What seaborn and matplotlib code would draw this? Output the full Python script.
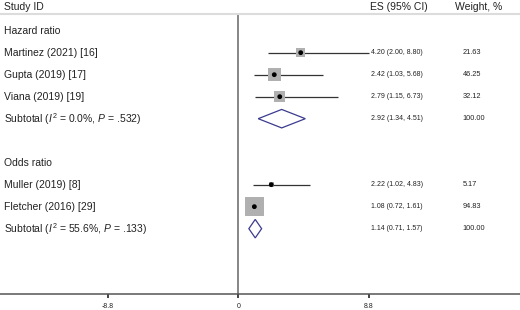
import numpy as np
import pandas as pd
import matplotlib
matplotlib.use("Agg")
import matplotlib.pyplot as plt
from matplotlib.patches import Polygon
import seaborn as sns

sns.set_style("white")
plt.rcParams["font.family"] = ["Liberation Sans", "DejaVu Sans"]
plt.rcParams["mathtext.fontset"] = "custom"
plt.rcParams["mathtext.rm"] = "Liberation Sans"
plt.rcParams["mathtext.it"] = "Liberation Sans:italic"

groups = ["Hazard ratio", "Odds ratio"]
studies = ["Martinez (2021) [16]", "Gupta (2019) [17]", "Viana (2019) [19]",
           "Muller (2019) [8]", "Fletcher (2016) [29]"]
study_group = ["Hazard ratio", "Hazard ratio", "Hazard ratio", "Odds ratio", "Odds ratio"]
es = [4.20, 2.42, 2.79, 2.22, 1.08]
ci_lo = [2.00, 1.03, 1.15, 1.02, 0.72]
ci_hi = [8.80, 5.68, 6.73, 4.83, 1.61]
weight = [21.63, 46.25, 32.12, 5.17, 94.83]

sub_es = [2.92, 1.14]
sub_lo = [1.34, 0.71]
sub_hi = [4.51, 1.57]
sub_i2 = ["0.0%", "55.6%"]
sub_p = [".532", ".133"]

xticks = [-8.8, 0, 8.8]

# armamos las filas (una fila por renglon del grafico)
rows = []
r = 0
for g, gname in enumerate(groups):
    rows.append(dict(kind="head", row=r, label=gname))
    r += 1
    for i, s in enumerate(studies):
        if study_group[i] == gname:
            rows.append(dict(kind="study", row=r, label=s, es=es[i], lo=ci_lo[i],
                             hi=ci_hi[i], w=weight[i]))
            r += 1
    lab = r"Subtotal ($\mathit{I}^2$ = %s, $\mathit{P}$ = %s)" % (sub_i2[g], sub_p[g])
    rows.append(dict(kind="sub", row=r, label=lab, es=sub_es[g], lo=sub_lo[g],
                     hi=sub_hi[g], w=100.0))
    r += 2
df = pd.DataFrame(rows)
st = df[df.kind == "study"]

fig = plt.figure(figsize=(5.2, 3.1), dpi=100)
ax = fig.add_axes([0, 16 / 310, 1, 294 / 310])
xl = (-238.3 / 14.86, (520 - 238.3) / 14.86)
ax.set_xlim(xl)
ax.set_ylim(11.97, -1.395)

txt = "#222222"

# intervalos de confianza
ax.hlines(st.row, st.lo, st.hi, color="#333333", lw=0.9, zorder=2)

# cuadros grises, area proporcional al peso
k = 187.6 / max(weight)
sns.scatterplot(data=st, x="es", y="row", size="w",
                sizes=(k * st.w.min(), k * st.w.max()), marker="s",
                color="#b0b0b0", edgecolor="none", legend=False, ax=ax, zorder=3)
sns.scatterplot(data=st, x="es", y="row", s=12, color="black",
                edgecolor="none", legend=False, ax=ax, zorder=4)

# diamantes de los subtotales
for _, s in df[df.kind == "sub"].iterrows():
    h = 0.42
    d = Polygon([[s.lo, s.row], [s.es, s.row - h], [s.hi, s.row], [s.es, s.row + h]],
                closed=True, fill=False, edgecolor="#3b3b8f", lw=0.9, zorder=3)
    ax.add_patch(d)

# textos
for _, s in df.iterrows():
    ax.text(-15.75, s.row, s.label, fontsize=7.5, color=txt, va="center", ha="left")
    if s.kind != "head":
        ax.text(8.9, s.row, f"{s.es:.2f} ({s.lo:.2f}, {s.hi:.2f})", fontsize=5,
                color=txt, va="center", ha="left")
        ax.text(15.1, s.row, f"{s.w:.2f}", fontsize=5.3, color=txt, va="center", ha="left")

ax.text(-15.75, -1.08, "Study ID", fontsize=7.5, color=txt, va="center", ha="left")
ax.text(8.85, -1.08, "ES (95% CI)", fontsize=7.5, color=txt, va="center", ha="left")
ax.text(14.6, -1.08, "Weight, %", fontsize=7.5, color=txt, va="center", ha="left")

# lineas de referencia
ax.axhline(-0.76, color="#dcdcdc", lw=1.5)
ax.vlines(0, -0.76, 11.97, color="#666666", lw=1.1, zorder=1)

for sp in ["top", "left", "right"]:
    ax.spines[sp].set_visible(False)
ax.spines["bottom"].set_color("#555555")
ax.spines["bottom"].set_linewidth(1.1)
ax.set_yticks([])
ax.set_xticks(xticks)
ax.set_xticklabels([f"{t:g}" for t in xticks])
ax.tick_params(axis="x", direction="out", length=3, width=1.1, color="#111111",
               labelsize=5, pad=3.5, labelcolor=txt, bottom=True)
ax.set_xlabel("")
ax.set_ylabel("")

fig.savefig("out.png", dpi=100, facecolor="white")
